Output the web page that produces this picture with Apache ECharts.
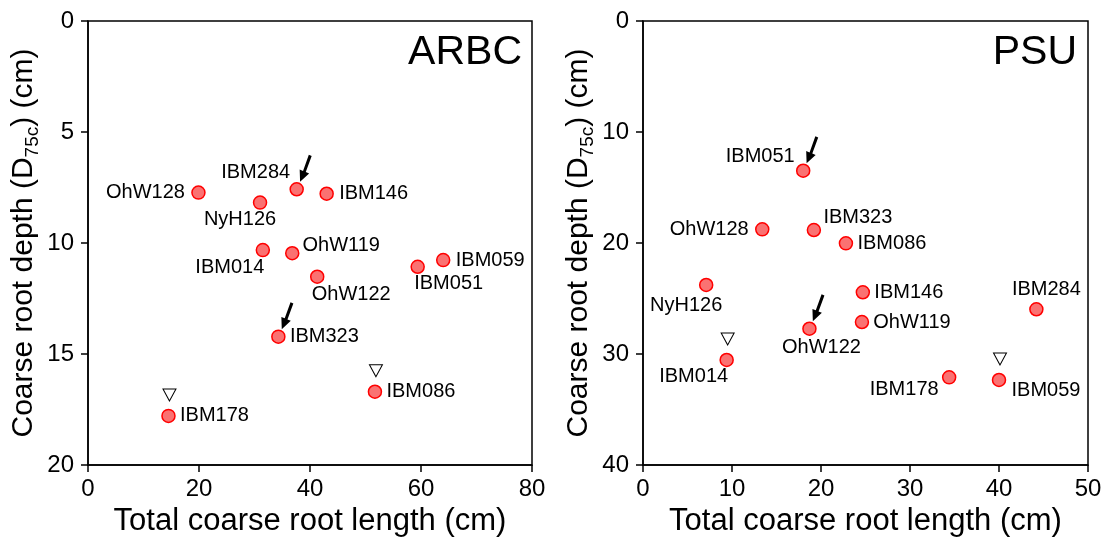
<!DOCTYPE html>
<html>
<head>
<meta charset="utf-8">
<script src="https://cdn.jsdelivr.net/npm/echarts@6/dist/echarts.min.js"></script>
<style>
  html, body { margin: 0; padding: 0; background: #fff; }
  #main { width: 1107px; height: 547px; }
</style>
</head>
<body>
<div id="main"></div>
<script>
// ARBC panel
const arbcNames = ["OhW128", "NyH126", "IBM284", "IBM146", "IBM014", "OhW119", "OhW122", "IBM051", "IBM059", "IBM323", "IBM086", "IBM178"];
const arbcLength = [19.9, 31.0, 37.6, 43.0, 31.5, 36.8, 41.3, 59.4, 64.0, 34.3, 51.7, 14.5];
const arbcDepth = [7.73, 8.18, 7.58, 7.78, 10.32, 10.46, 11.52, 11.07, 10.77, 14.22, 16.7, 17.79];
const arbcArrows = ["IBM284", "IBM323"];
const arbcTriangles = ["IBM178", "IBM086"];
const arbcXTicks = [0, 20, 40, 60, 80];
const arbcYTicks = [0, 5, 10, 15, 20];

// PSU panel
const psuNames = ["IBM051", "OhW128", "IBM323", "IBM086", "NyH126", "IBM146", "IBM284", "OhW119", "OhW122", "IBM014", "IBM178", "IBM059"];
const psuLength = [18.0, 13.4, 19.2, 22.8, 7.1, 24.7, 44.2, 24.6, 18.7, 9.4, 34.4, 40.0];
const psuDepth = [13.49, 18.77, 18.83, 20.03, 23.78, 24.44, 25.97, 27.12, 27.72, 30.54, 32.1, 32.34];
const psuArrows = ["IBM051", "OhW122"];
const psuTriangles = ["IBM014", "IBM059"];
const psuXTicks = [0, 10, 20, 30, 40, 50];
const psuYTicks = [0, 10, 20, 30, 40];

// where each label sits relative to its point (px)
const arbcLabelPos = {
  OhW128: [-53, 0], NyH126: [-20, 17], IBM284: [-41, -17], IBM146: [47, 0],
  IBM014: [-33, 17], OhW119: [49, -8], OhW122: [34, 18], IBM051: [31, 17],
  IBM059: [47, 0], IBM323: [46, 0], IBM086: [46, 0], IBM178: [46, 0]
};
const psuLabelPos = {
  IBM051: [-43, -14], OhW128: [-53, 0], IBM323: [44, -13], IBM086: [46, 0],
  NyH126: [-20, 21], IBM146: [46, 0], IBM284: [10, -20], OhW119: [50, 0],
  OhW122: [12, 19], IBM014: [-33, 16], IBM178: [-45, 12], IBM059: [47, 11]
};

const FONT = "'Liberation Sans', Arial, sans-serif";
// arrow pointing down-left, tip at bottom-left of its box
const ARROW = "path://M106,4 L134,16 L76,174 L109,188 L20,270 L16,149 L49,163 Z";

function xAxisFor(gi, ticks) {
  return {
    gridIndex: gi,
    type: "value",
    min: ticks[0],
    max: ticks[ticks.length - 1],
    interval: ticks[1] - ticks[0],
    name: "Total coarse root length (cm)",
    nameLocation: "middle",
    nameGap: 41,
    nameTextStyle: { fontSize: 31, color: "#000", fontFamily: FONT },
    axisLine: { show: true, onZero: false, lineStyle: { color: "#000", width: 1.5 } },
    axisTick: { show: true, length: 7, lineStyle: { color: "#000", width: 1.5 } },
    axisLabel: { fontSize: 24, color: "#000", margin: 12, fontFamily: FONT },
    splitLine: { show: false }
  };
}

function yAxisFor(gi, ticks) {
  return {
    gridIndex: gi,
    type: "value",
    inverse: true,
    min: ticks[0],
    max: ticks[ticks.length - 1],
    interval: ticks[1] - ticks[0],
    name: "Coarse root depth (D{sub|75c}) (cm)",
    nameLocation: "middle",
    nameGap: 46,
    nameTextStyle: {
      fontSize: 30, color: "#000", fontFamily: FONT, lineHeight: 36,
      rich: { sub: { fontSize: 19, lineHeight: 19, verticalAlign: "bottom", color: "#000", fontFamily: FONT } }
    },
    axisLine: { show: true, onZero: false, lineStyle: { color: "#000", width: 1.5 } },
    axisTick: { show: true, length: 7, lineStyle: { color: "#000", width: 1.5 } },
    axisLabel: { fontSize: 24, color: "#000", margin: 14, fontFamily: FONT },
    splitLine: { show: false }
  };
}

function pick(names, xs, ys, list) {
  return list.map((n) => {
    const i = names.indexOf(n);
    return { name: n, value: [xs[i], ys[i]] };
  });
}

function panelSeries(gi, names, xs, ys, labelPos, arrows, triangles) {
  return [
    {
      type: "scatter",
      xAxisIndex: gi,
      yAxisIndex: gi,
      symbol: "circle",
      symbolSize: 13,
      itemStyle: { color: "#FA7272", borderColor: "#FF0000", borderWidth: 1.5, opacity: 1 },
      label: {
        show: true,
        position: "inside",
        formatter: "{b}",
        fontSize: 20,
        color: "#000",
        fontFamily: FONT
      },
      data: names.map((n, i) => ({
        name: n,
        value: [xs[i], ys[i]],
        label: { offset: labelPos[n] }
      })),
      z: 3
    },
    {
      type: "scatter",
      xAxisIndex: gi,
      yAxisIndex: gi,
      symbol: "triangle",
      symbolRotate: 180,
      symbolSize: [13, 12],
      symbolOffset: [1, -21],
      itemStyle: { color: "#fff", borderColor: "#000", borderWidth: 1, opacity: 1 },
      data: pick(names, xs, ys, triangles),
      z: 4
    },
    {
      type: "scatter",
      xAxisIndex: gi,
      yAxisIndex: gi,
      symbol: ARROW,
      symbolSize: [12, 27],
      symbolOffset: [9, -21],
      itemStyle: { color: "#000", borderWidth: 0, opacity: 1 },
      data: pick(names, xs, ys, arrows),
      z: 4
    }
  ];
}

const chart = echarts.init(document.getElementById("main"));
chart.setOption({
  animation: false,
  title: [
    { text: "ARBC", right: 1107 - 522, top: 32, padding: 0, textStyle: { fontSize: 41, fontWeight: "normal", color: "#000", fontFamily: FONT } },
    { text: "PSU", right: 1107 - 1077, top: 32, padding: 0, textStyle: { fontSize: 41, fontWeight: "normal", color: "#000", fontFamily: FONT } }
  ],
  grid: [
    { left: 88, top: 21, width: 444, height: 444, show: true, borderColor: "#000", borderWidth: 1.5 },
    { left: 643, top: 21, width: 445, height: 444, show: true, borderColor: "#000", borderWidth: 1.5 }
  ],
  xAxis: [xAxisFor(0, arbcXTicks), xAxisFor(1, psuXTicks)],
  yAxis: [yAxisFor(0, arbcYTicks), yAxisFor(1, psuYTicks)],
  series: [
    ...panelSeries(0, arbcNames, arbcLength, arbcDepth, arbcLabelPos, arbcArrows, arbcTriangles),
    ...panelSeries(1, psuNames, psuLength, psuDepth, psuLabelPos, psuArrows, psuTriangles)
  ]
});
</script>
</body>
</html>
